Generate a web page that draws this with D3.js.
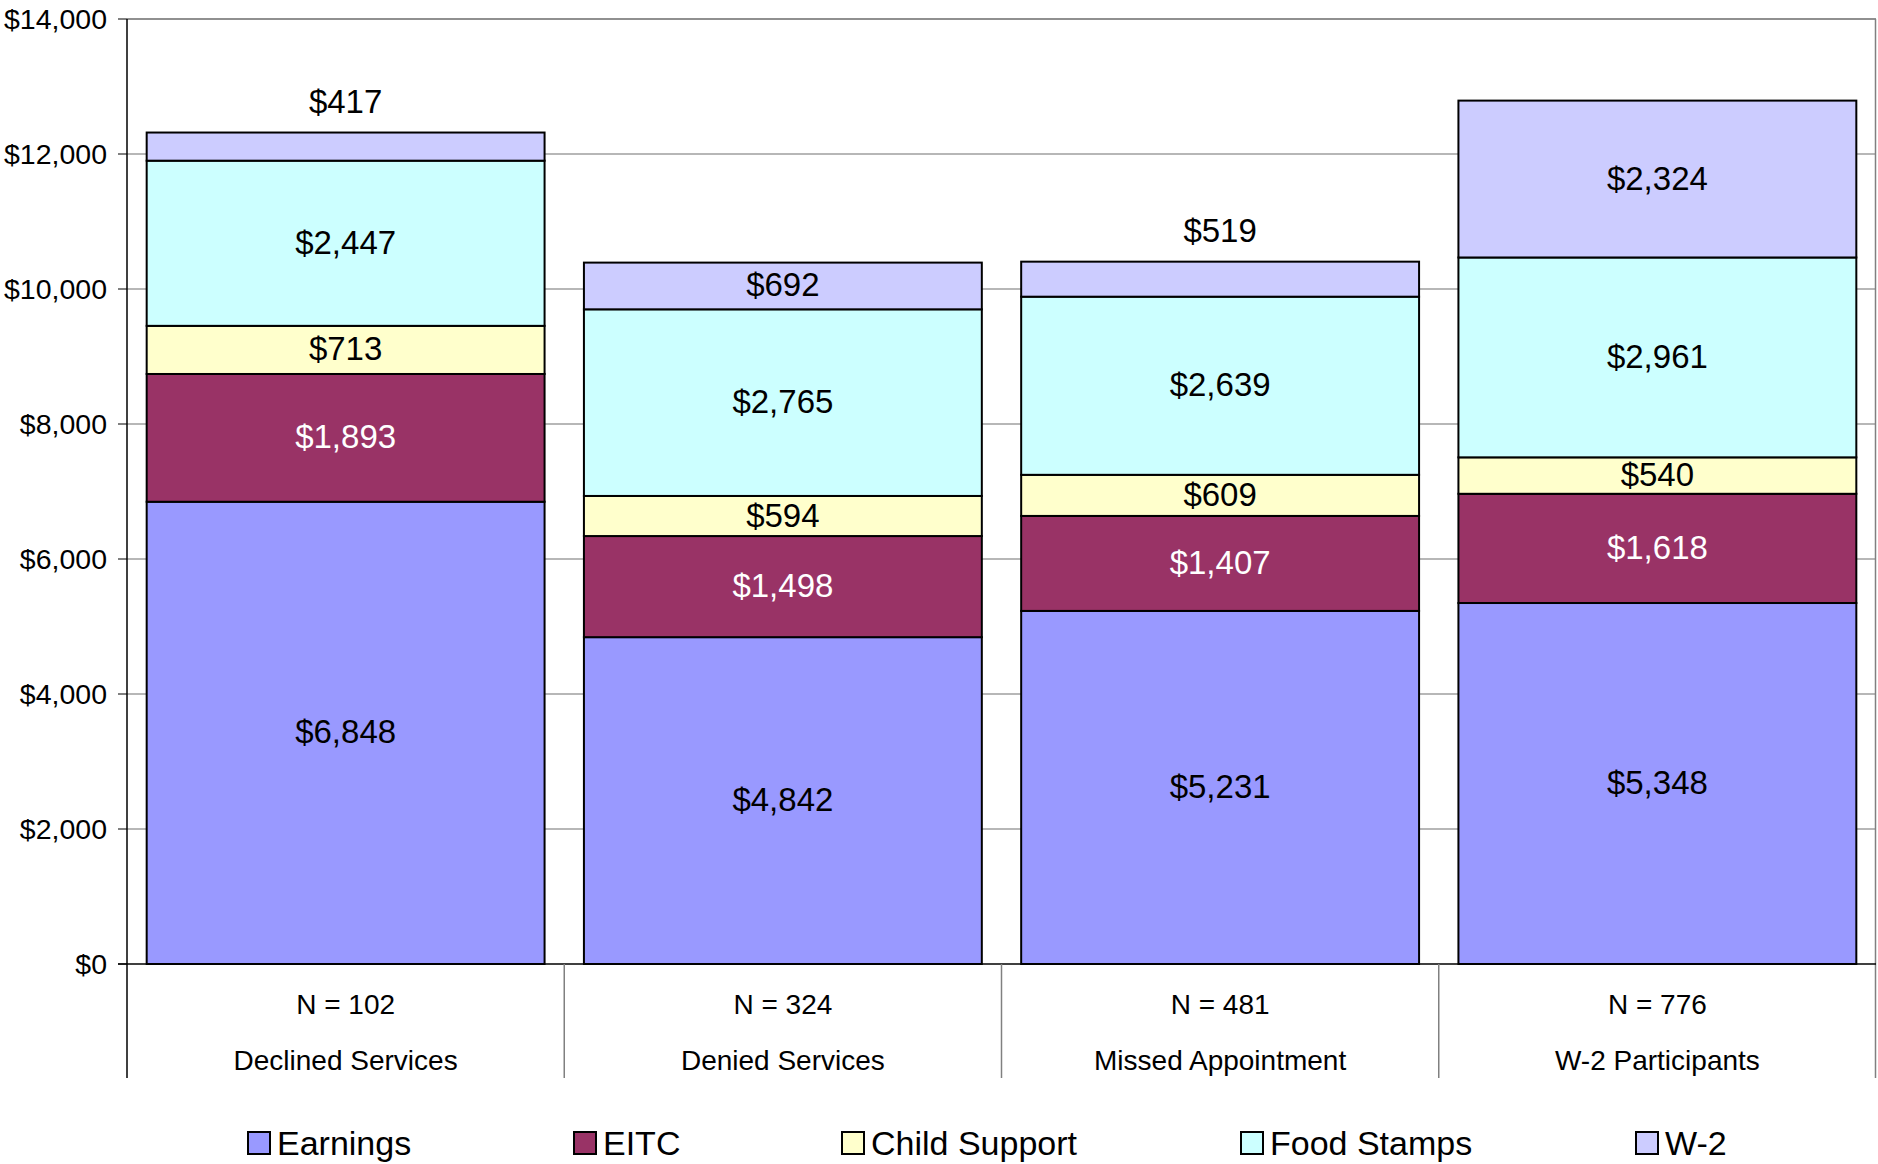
<!DOCTYPE html>
<meta charset="utf-8">
<script src="https://d3js.org/d3.v7.js"></script>
<style>
  body { margin: 0; background: #fff; }
  text { font-family: "Liberation Sans", Arial, sans-serif; }
</style>
<svg id="chart" width="1878" height="1164"></svg>
<script>

// categories and sample sizes
const categories = ["Declined Services", "Denied Services", "Missed Appointment", "W-2 Participants"];
const sampleSizes = ["N = 102", "N = 324", "N = 481", "N = 776"];

// series, stacked bottom to top
const seriesNames = ["Earnings", "EITC", "Child Support", "Food Stamps", "W-2"];
const earnings     = [6848, 4842, 5231, 5348];
const eitc         = [1893, 1498, 1407, 1618];
const childSupport = [713, 594, 609, 540];
const foodStamps   = [2447, 2765, 2639, 2961];
const w2           = [417, 692, 519, 2324];

const yTicks = [0, 2000, 4000, 6000, 8000, 10000, 12000, 14000];

const colors = ["#9999ff", "#993366", "#ffffcc", "#ccffff", "#ccccff"];
const labelColors = ["#000", "#fff", "#000", "#000", "#000"];

const svg = d3.select("#chart");

const plotLeft = 127, plotRight = 1876, plotTop = 19, plotBottom = 964, axisEnd = 1078;

const x = d3.scaleBand()
  .domain(categories)
  .range([plotLeft, plotRight])
  .paddingInner(0.09)
  .paddingOuter(0.045);

const y = d3.scaleLinear()
  .domain([0, 14000])
  .range([plotBottom, plotTop]);

// build rows for d3.stack
const seriesValues = [earnings, eitc, childSupport, foodStamps, w2];
const rows = categories.map((c, i) => {
  const r = { cat: c };
  seriesNames.forEach((s, j) => r[s] = seriesValues[j][i]);
  return r;
});
const stacked = d3.stack().keys(seriesNames)(rows);

const fmt = d3.format("$,");

// gridlines
svg.append("g")
  .selectAll("line")
  .data(yTicks.slice(1, -1))
  .join("line")
    .attr("x1", plotLeft).attr("x2", plotRight)
    .attr("y1", d => y(d)).attr("y2", d => y(d))
    .attr("stroke", "#707070")
    .attr("stroke-width", 1.2);

// plot border (top + right)
svg.append("line")
  .attr("x1", plotLeft).attr("x2", plotRight)
  .attr("y1", plotTop).attr("y2", plotTop)
  .attr("stroke", "#222").attr("stroke-width", 1.2);
svg.append("line")
  .attr("x1", plotRight - 0.5).attr("x2", plotRight - 0.5)
  .attr("y1", plotTop).attr("y2", axisEnd)
  .attr("stroke", "#808080").attr("stroke-width", 1.5);

// bars
const layers = svg.append("g")
  .selectAll("g")
  .data(stacked)
  .join("g")
    .attr("fill", (d, i) => colors[i]);

layers.selectAll("rect")
  .data(d => d)
  .join("rect")
    .attr("x", d => x(d.data.cat))
    .attr("width", x.bandwidth())
    .attr("y", d => y(d[1]))
    .attr("height", d => y(d[0]) - y(d[1]))
    .attr("stroke", "#000")
    .attr("stroke-width", 2);

// data labels
stacked.forEach((layer, j) => {
  svg.append("g")
    .selectAll("text")
    .data(layer)
    .join("text")
      .attr("x", d => x(d.data.cat) + x.bandwidth() / 2)
      .attr("y", d => {
        const h = y(d[0]) - y(d[1]);
        const isTop = j === stacked.length - 1;
        if (isTop && h < 40) return y(d[1]) - 31;
        return (y(d[0]) + y(d[1])) / 2 - 1;
      })
      .attr("text-anchor", "middle")
      .attr("dominant-baseline", "central")
      .attr("font-size", 33)
      .attr("fill", labelColors[j])
      .text(d => fmt(d[1] - d[0]));
});

// x axis baseline
svg.append("line")
  .attr("x1", plotLeft - 9).attr("x2", plotRight)
  .attr("y1", plotBottom).attr("y2", plotBottom)
  .attr("stroke", "#000").attr("stroke-width", 1.5);

// y axis
svg.append("line")
  .attr("x1", plotLeft).attr("x2", plotLeft)
  .attr("y1", plotTop).attr("y2", axisEnd)
  .attr("stroke", "#000").attr("stroke-width", 1.5);

const yAxis = svg.append("g");
yAxis.selectAll("line")
  .data(yTicks)
  .join("line")
    .attr("x1", plotLeft - 9).attr("x2", plotLeft)
    .attr("y1", d => y(d)).attr("y2", d => y(d))
    .attr("stroke", "#000");
yAxis.selectAll("text")
  .data(yTicks)
  .join("text")
    .attr("x", 107)
    .attr("y", d => y(d))
    .attr("text-anchor", "end")
    .attr("dominant-baseline", "central")
    .attr("font-size", 28.5)
    .text(d => fmt(d));

// category separators
const step = x.step();
svg.append("g")
  .selectAll("line")
  .data(d3.range(1, categories.length))
  .join("line")
    .attr("x1", i => plotLeft + i * step).attr("x2", i => plotLeft + i * step)
    .attr("y1", plotBottom).attr("y2", axisEnd)
    .attr("stroke", "#808080")
    .attr("stroke-width", 1.5);

// category labels
const catG = svg.append("g");
catG.selectAll("text.n")
  .data(categories)
  .join("text")
    .attr("class", "n")
    .attr("x", d => x(d) + x.bandwidth() / 2)
    .attr("y", 1004)
    .attr("text-anchor", "middle")
    .attr("dominant-baseline", "central")
    .attr("font-size", 28)
    .text((d, i) => sampleSizes[i]);
catG.selectAll("text.c")
  .data(categories)
  .join("text")
    .attr("class", "c")
    .attr("x", d => x(d) + x.bandwidth() / 2)
    .attr("y", 1060)
    .attr("text-anchor", "middle")
    .attr("dominant-baseline", "central")
    .attr("font-size", 28)
    .text(d => d);

// legend
const legendX = [248, 574, 842, 1241, 1636];
const legend = svg.append("g")
  .selectAll("g")
  .data(seriesNames)
  .join("g")
    .attr("transform", (d, i) => `translate(${legendX[i]},1132)`);
legend.append("rect")
  .attr("width", 22).attr("height", 22)
  .attr("fill", (d, i) => colors[i])
  .attr("stroke", "#000")
  .attr("stroke-width", 2);
legend.append("text")
  .attr("x", 29)
  .attr("y", 11)
  .attr("dominant-baseline", "central")
  .attr("font-size", 34)
  .text(d => d);

</script>
